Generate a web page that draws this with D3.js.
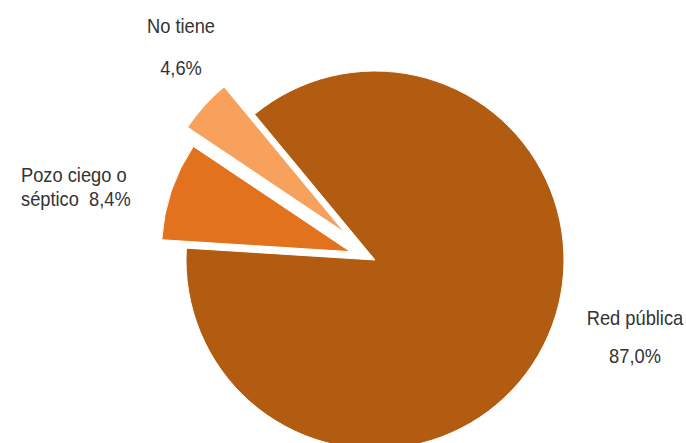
<!DOCTYPE html>
<html>
<head>
<meta charset="utf-8">
<script src="https://cdn.jsdelivr.net/npm/d3@7"></script>
<style>
  html, body { margin: 0; padding: 0; background: #fff; }
  svg text { font-family: "Liberation Sans", Arial, sans-serif; fill: #333; white-space: pre; }
</style>
</head>
<body>
<div id="chart"></div>
<script>
'use strict';

// data
const categories = ['Red pública', 'Pozo ciego o séptico', 'No tiene'];
const values = [87.0, 8.4, 4.6];
const valueLabels = ['87,0%', '8,4%', '4,6%'];
const colors = ['#b25c12', '#e3721f', '#f7a15c'];

// layout
const width = 686, height = 443;
const center = { x: 375, y: 260 };
const radius = 189;
const explode = [0, 26, 41];
const startDeg = -39.6;
const condense = 0.87; // narrow font look
const labelLayout = [
  { x: 635, anchor: 'middle', lines: [[categories[0], 325], [valueLabels[0], 363]] },
  { x: 21, anchor: 'start', lines: [['Pozo ciego o', 182], ['séptico  ' + valueLabels[1], 206]] },
  { x: 181, anchor: 'middle', lines: [[categories[2], 33], [valueLabels[2], 75]] }
];

const svg = d3.select('#chart').append('svg')
  .attr('width', width)
  .attr('height', height);

const plot = svg.append('g')
  .attr('transform', `translate(${center.x}, ${center.y})`);

const pie = d3.pie()
  .sort(null)
  .value((d) => d)
  .startAngle(startDeg * Math.PI / 180)
  .endAngle(startDeg * Math.PI / 180 + 2 * Math.PI);

const arc = d3.arc()
  .innerRadius(0)
  .outerRadius(radius);

const arcs = pie(values);

plot.selectAll('.slice')
  .data(arcs)
  .enter().append('path')
    .attr('class', 'slice')
    .attr('fill', (d, i) => colors[i])
    .attr('stroke', '#fff')
    .attr('stroke-width', 1)
    .attr('transform', (d, i) => {
      const mid = (d.startAngle + d.endAngle) / 2;
      const dx = Math.sin(mid) * explode[i];
      const dy = -Math.cos(mid) * explode[i];
      return `translate(${dx}, ${dy})`;
    })
    .attr('d', arc);

// labels
labelLayout.forEach((l) => {
  const t = svg.append('text')
    .attr('transform', `translate(${l.x}, 0) scale(${condense}, 1)`)
    .attr('text-anchor', l.anchor)
    .style('font-size', '21px');
  l.lines.forEach(([line, y]) => {
    t.append('tspan')
      .attr('x', 0)
      .attr('y', y)
      .text(line);
  });
});
</script>
</body>
</html>
